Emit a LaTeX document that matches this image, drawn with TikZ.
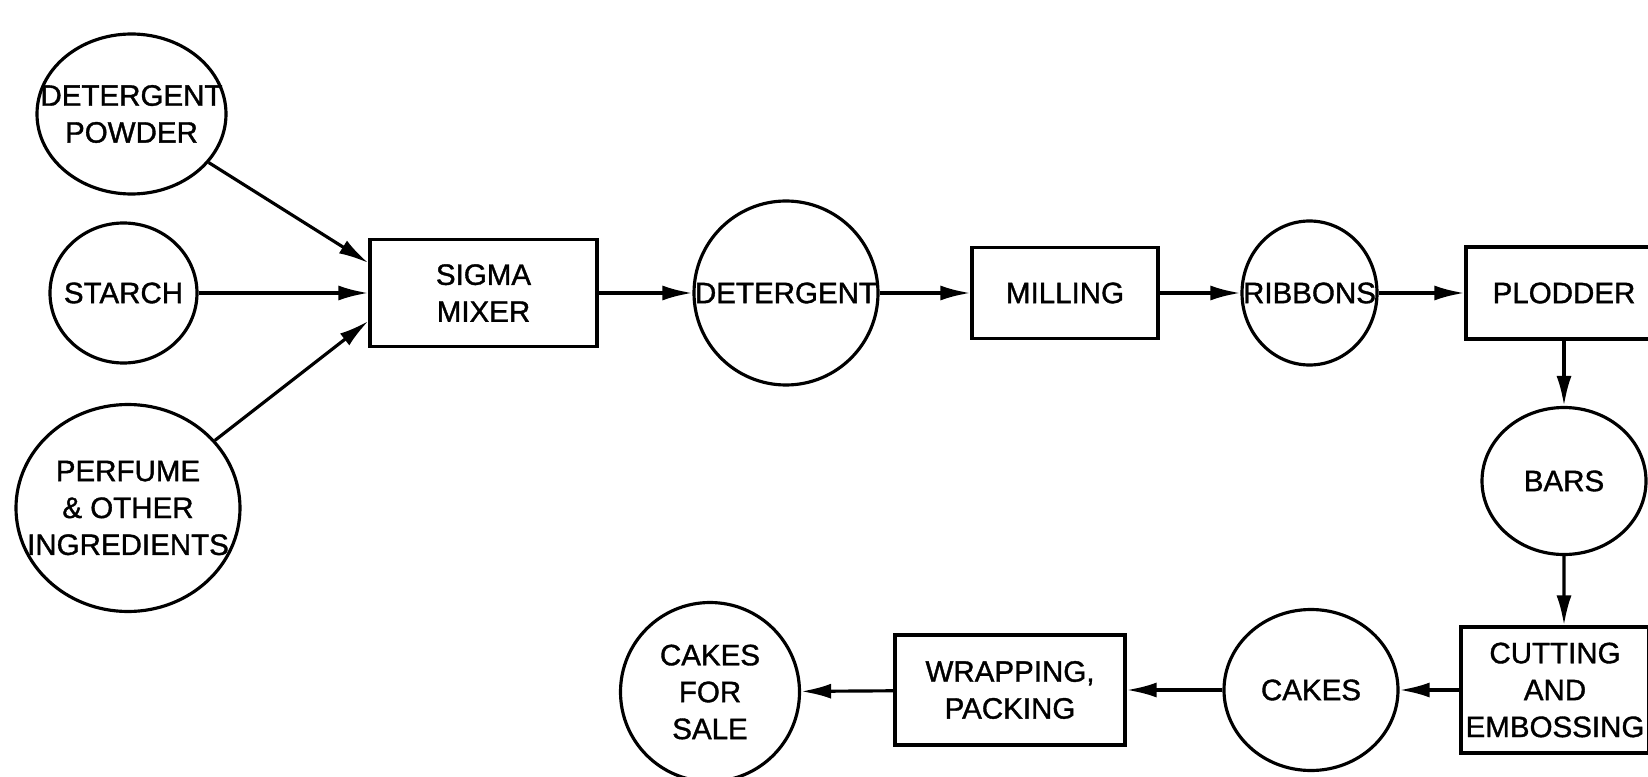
\documentclass[tikz,border=0pt]{standalone}
\usepackage{fontspec}
\newfontfamily\chartfont[FakeBold=1.2]{Liberation Sans}
\usepackage{tikz}
\usetikzlibrary{arrows.meta,shapes.geometric}

\tikzset{
  stuff/.style={ellipse, draw, inner sep=0pt},
  process/.style={rectangle, draw, inner sep=0pt, align=center},
  flow/.style={-{Latex[length=3mm,width=1.5mm]}},
}

\begin{document}
\begin{tikzpicture}[line width=0.9pt, font=\chartfont\fontsize{8.4}{10.5}\selectfont,
  every label/.append style={align=center}]
 \useasboundingbox (0,0) rectangle (16.48,7.76);
 % ingredients
 \node[stuff, minimum width=1.89cm, minimum height=1.60cm, label=center:{DETERGENT\\POWDER}] (powder) at (1.315,6.62) {};
 \node[stuff, minimum width=1.47cm, minimum height=1.40cm, label=center:{STARCH}] (starch) at (1.235,4.83) {};
 \node[stuff, minimum width=2.24cm, minimum height=2.07cm, label=center:{PERFUME\\\& OTHER\\INGREDIENTS}] (perfume) at (1.28,2.68) {};
 % top row
 \node[process, minimum width=2.27cm, minimum height=1.07cm] (mixer) at (4.835,4.83) {SIGMA\\MIXER};
 \node[stuff, minimum width=1.84cm, minimum height=1.84cm, label=center:{DETERGENT}] (detergent) at (7.86,4.83) {};
 \node[process, minimum width=1.86cm, minimum height=0.91cm] (milling) at (10.65,4.83) {MILLING};
 \node[stuff, minimum width=1.35cm, minimum height=1.44cm, label=center:{RIBBONS}] (ribbons) at (13.095,4.83) {};
 \node[process, minimum width=1.96cm, minimum height=0.92cm] (plodder) at (15.64,4.83) {PLODDER};
 % right column
 \node[stuff, minimum width=1.64cm, minimum height=1.47cm, label=center:{BARS}] (bars) at (15.64,2.95) {};
 % bottom row
 \node[process, minimum width=1.88cm, minimum height=1.26cm] (cutting) at (15.55,0.86) {CUTTING\\AND\\EMBOSSING};
 \node[stuff, minimum width=1.74cm, minimum height=1.61cm, label=center:{CAKES}] (cakes) at (13.11,0.86) {};
 \node[process, minimum width=2.30cm, minimum height=1.10cm] (wrapping) at (10.10,0.86) {WRAPPING,\\PACKING};
 \node[stuff, minimum width=1.79cm, minimum height=1.79cm, label=center:{CAKES\\FOR\\SALE}] (sale) at (7.10,0.84) {};

 \path[flow]
  (powder) edge ([yshift=3mm]mixer.west)
  (starch) edge (mixer)
  (perfume) edge ([yshift=-2.8mm]mixer.west)
  (mixer) edge (detergent)
  (detergent) edge (milling)
  (milling) edge (ribbons)
  (ribbons) edge (plodder)
  (plodder) edge (bars)
  (bars) edge ([xshift=0.9mm]cutting.north)
  (cutting) edge (cakes)
  (cakes) edge (wrapping)
  (wrapping) edge (sale)
  ;
\end{tikzpicture}
\end{document}
